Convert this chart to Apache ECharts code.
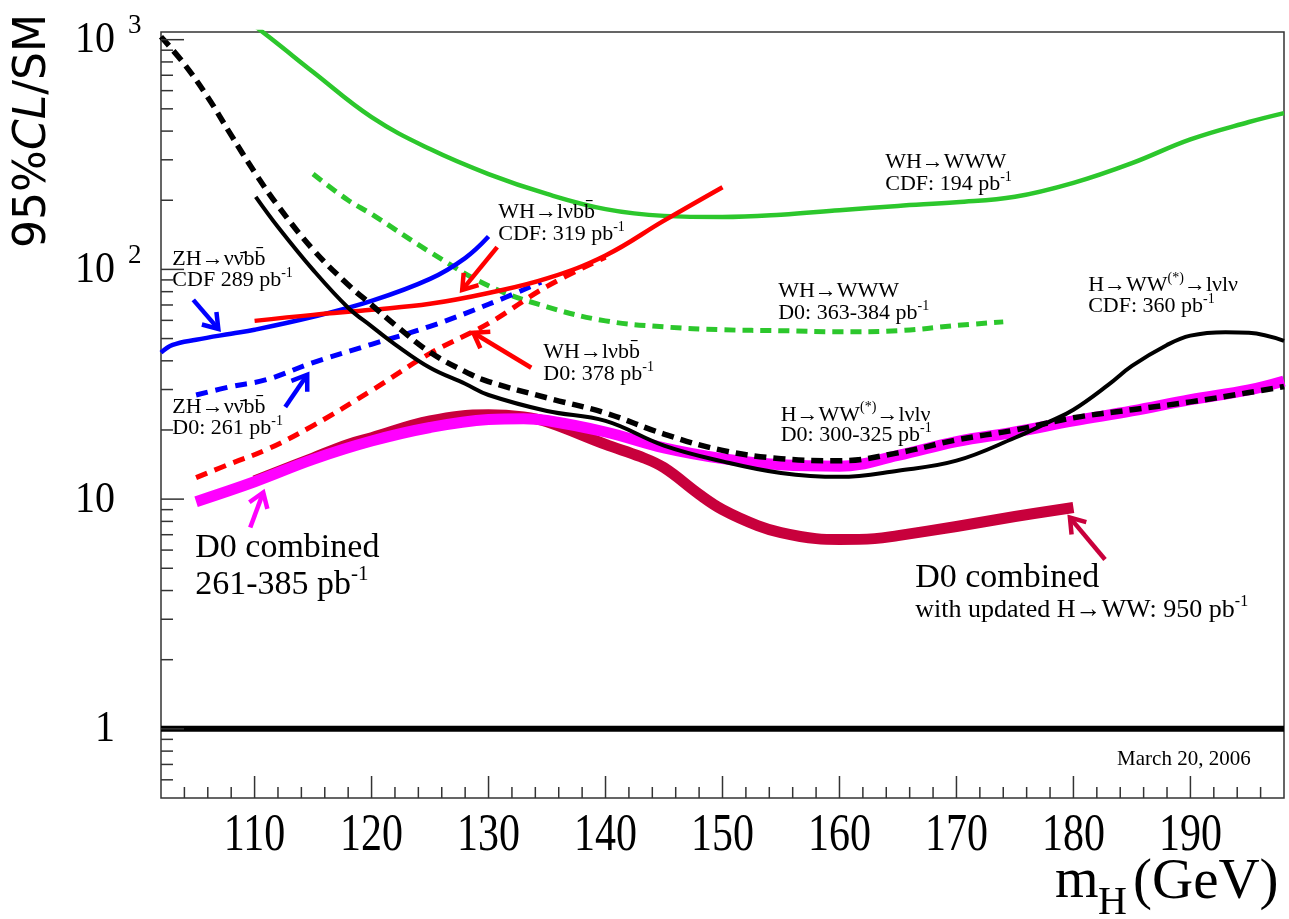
<!DOCTYPE html>
<html>
<head>
<meta charset="utf-8">
<title>Higgs search limits</title>
<script src="https://cdn.jsdelivr.net/npm/echarts@6.0.0/dist/echarts.min.js"></script>
<style>
  html, body { margin: 0; padding: 0; background: #ffffff; }
  #chart { width: 1289px; height: 919px; }
</style>
</head>
<body>
<div id="chart"></div>
<script>
// ---------- axis ranges ----------
const X_MIN = 102, X_MAX = 198;
const Y_MIN = 0.5, Y_MAX = 1080;

// ---------- 95% CL limit / SM versus Higgs mass (GeV) ----------
// WH -> WWW, CDF 194 pb-1
const cdfWWW_m = [110, 112, 115, 120, 125, 130, 135, 140, 145, 150, 155, 160, 165, 170, 175, 180, 185, 190, 195, 198];
const cdfWWW_r = [1150, 957, 723, 460, 334, 260, 213, 183, 171, 169, 173, 181, 189, 196, 207, 238, 290, 368, 438, 479];
// WH -> WWW, D0 363-384 pb-1
const d0WWW_m = [115, 118, 120, 125, 130, 135, 140, 145, 150, 155, 160, 165, 170, 174];
const d0WWW_r = [260, 200, 174, 119, 84.8, 68.7, 59.7, 56.2, 54.6, 54.1, 53.5, 54.1, 57.0, 59.1];
// WH -> l nu b b, CDF 319 pb-1
const cdfWHbb_m = [110, 115, 120, 125, 130, 135, 140, 145, 150];
const cdfWHbb_r = [59.7, 63.4, 66.7, 70.8, 78.9, 91.3, 115, 163, 228];
// WH -> l nu b b, D0 378 pb-1
const d0WHbb_m = [105, 108, 111, 115, 120, 125, 130, 135, 140];
const d0WHbb_r = [12.4, 14.3, 16.4, 20.9, 29.7, 43.1, 58.2, 84.4, 113];
// ZH -> nu nu b b, CDF 289 pb-1
const cdfZHbb_m = [102, 103, 105, 108, 110, 115, 120, 125, 128, 130];
const cdfZHbb_r = [43.4, 46.9, 49.4, 52.5, 54.6, 62.2, 72.9, 90.9, 112, 139];
// ZH -> nu nu b b, D0 261 pb-1
const d0ZHbb_m = [105, 108, 111, 115, 120, 125, 130, 134.5];
const d0ZHbb_r = [28.4, 30.9, 33.1, 39.3, 47.2, 56.5, 70.5, 88];
// H -> WW(*) -> l nu l nu, D0 300-325 pb-1
const d0HWW_m = [102, 104, 106, 108, 110, 112, 115, 118, 120, 122, 125, 128, 130, 135, 140, 145, 150, 155, 160, 165, 170, 175, 180, 185, 190, 195, 198];
const d0HWW_r = [1030, 782, 562, 384, 265, 189, 122, 85.7, 70.1, 57.4, 43.6, 35.9, 32.5, 27.6, 23.7, 19.2, 16.3, 15.0, 14.7, 15.9, 18.1, 20.0, 22.6, 24.5, 26.5, 29.1, 30.9];
// H -> WW(*) -> l nu l nu, CDF 360 pb-1
const cdfHWW_m = [110.1, 112, 115, 118, 120, 122, 125, 128, 130, 135, 140, 145, 150, 155, 160, 165, 170, 175, 178, 180, 183, 185, 188, 190, 193, 195, 198];
const cdfHWW_r = [207, 153, 99.5, 68.1, 56.5, 47.2, 37.3, 31.8, 28.4, 24.2, 21.9, 17.1, 14.6, 13.0, 12.5, 13.3, 14.7, 18.5, 21.8, 24.5, 31.5, 38.0, 46.9, 51.5, 53.3, 53.0, 48.9];
// D0 combined, 261-385 pb-1
const d0Comb_m = [105, 110, 115, 120, 125, 130, 133, 135, 140, 145, 150, 155, 160, 165, 170, 175, 180, 185, 190, 195, 198];
const d0Comb_r = [9.75, 11.9, 14.9, 17.9, 20.5, 22.2, 22.4, 22.0, 19.6, 16.7, 15.0, 14.1, 13.9, 15.5, 17.8, 19.6, 21.9, 24.2, 27.1, 29.9, 32.7];
// D0 combined with updated H -> WW, 950 pb-1
const d0Comb950_m = [110, 115, 118, 120, 125, 130, 133, 135, 140, 143, 145, 148, 150, 153, 155, 158, 160, 163, 165, 170, 175, 180];
const d0Comb950_r = [12.0, 15.1, 17.3, 18.5, 21.9, 23.3, 22.8, 21.7, 17.3, 15.3, 13.7, 10.5, 9.0, 7.67, 7.15, 6.73, 6.67, 6.73, 6.94, 7.6, 8.4, 9.2];
// Standard Model reference
const sm_m = [X_MIN, X_MAX];
const sm_r = [1, 1];

// ---------- ticks and tick labels ----------
const xMajorTicks = [110, 120, 130, 140, 150, 160, 170, 180, 190];
const xMinorTicks = [104, 106, 108, 112, 114, 116, 118, 122, 124, 126, 128, 132, 134, 136, 138, 142, 144, 146, 148,
  152, 154, 156, 158, 162, 164, 166, 168, 172, 174, 176, 178, 182, 184, 186, 188, 192, 194, 196];
const xTickLabels = ['110', '120', '130', '140', '150', '160', '170', '180', '190'];
const yMajorTicks = [1, 10, 100, 1000];
const yMinorTicks = [0.6, 0.7, 0.8, 0.9, 2, 3, 4, 5, 6, 7, 8, 9, 20, 30, 40, 50, 60, 70, 80, 90,
  200, 300, 400, 500, 600, 700, 800, 900];
const yLabelBase = ['1', '10', '10', '10'];
const yLabelExp = ['', '', '2', '3'];

// ---------- annotation arrows (tail -> head, in data units) ----------
const arrowTail = [[104.76, 73.7], [112.62, 25.2], [130.74, 125], [133.65, 37.3], [109.63, 7.52], [182.7, 5.46]];
const arrowHead = [[106.9, 55.1], [114.5, 34.8], [127.75, 81.5], [128.7, 53.0], [110.74, 10.7], [179.7, 8.31]];
const arrowColor = ['#0000ff', '#0000ff', '#ff0000', '#ff0000', '#ff00ff', '#c8003c'];

// ---------- annotation texts (anchor = left edge, line middle) ----------
const noteText = [
  'ZH→νν\u0304bb\u0304', 'CDF 289 pb{s|-1}',
  'WH→lνbb\u0304', 'CDF: 319 pb{s|-1}',
  'WH→WWW', 'CDF: 194 pb{s|-1}',
  'WH→WWW', 'D0: 363-384 pb{s|-1}',
  'H→WW{s|(*)}→lνlν', 'CDF: 360 pb{s|-1}',
  'WH→lνbb\u0304', 'D0: 378 pb{s|-1}',
  'ZH→νν\u0304bb\u0304', 'D0: 261 pb{s|-1}',
  'H→WW{s|(*)}→lνlν', 'D0: 300-325 pb{s|-1}',
  'D0 combined', '261-385 pb{s|-1}',
  'D0 combined', 'with updated H→WW: 950 pb{s|-1}',
  'March 20, 2006'
];
const noteAnchor = [
  [102.97, 111.1], [102.97, 90.0],
  [130.83, 177.8], [130.83, 142.7],
  [163.91, 293.4], [163.91, 235.3],
  [154.76, 80.6], [154.76, 64.7],
  [181.26, 85.6], [181.26, 69.4],
  [134.68, 43.8], [134.68, 34.8],
  [102.97, 25.2], [102.97, 20.3],
  [154.97, 23.3], [154.97, 18.9],
  [104.93, 6.15], [104.93, 4.21],
  [166.47, 4.51], [166.47, 3.27],
  [183.73, 0.737]
];
const noteSize = [22, 22, 22, 22, 22, 22, 22, 22, 22, 22, 22, 22, 22, 22, 22, 22, 34, 34, 34, 26, 21];

const SERIF = '"Liberation Serif", "Times New Roman", serif';

function pairs(xs, ys) { return xs.map((x, i) => [x, ys[i]]); }

function curve(name, xs, ys, color, width, dash, z) {
  return {
    name: name,
    type: 'line',
    data: pairs(xs, ys),
    showSymbol: false,
    symbol: 'none',
    smooth: 0.4,
    clip: true,
    silent: true,
    z: z,
    lineStyle: { color: color, width: width, type: dash || 'solid', cap: 'butt', join: 'round' }
  };
}

function tickSeries(name, points, dx, dy) {
  return {
    name: name,
    type: 'custom',
    coordinateSystem: 'cartesian2d',
    silent: true,
    clip: false,
    z: 8,
    data: points,
    renderItem: function (params, api) {
      const p = api.coord([api.value(0), api.value(1)]);
      return {
        type: 'line',
        shape: { x1: p[0], y1: p[1], x2: p[0] + dx, y2: p[1] + dy },
        style: { stroke: '#333333', lineWidth: 1.5 }
      };
    }
  };
}

const series = [
  curve('D0 combined 950', d0Comb950_m, d0Comb950_r, '#c8003c', 11, null, 2),
  curve('D0 combined', d0Comb_m, d0Comb_r, '#ff00ff', 11, null, 3),
  curve('WH→WWW CDF', cdfWWW_m, cdfWWW_r, '#2cc72c', 4.5, null, 4),
  curve('WH→WWW D0', d0WWW_m, d0WWW_r, '#2cc72c', 5, [11, 7], 4),
  curve('ZH→vvbb CDF', cdfZHbb_m, cdfZHbb_r, '#0000ff', 4.5, null, 4),
  curve('ZH→vvbb D0', d0ZHbb_m, d0ZHbb_r, '#0000ff', 5, [12, 8], 4),
  curve('WH→lvbb D0', d0WHbb_m, d0WHbb_r, '#ff0000', 5, [12, 8], 4),
  curve('WH→lvbb CDF', cdfWHbb_m, cdfWHbb_r, '#ff0000', 4.5, null, 5),
  curve('H→WW CDF', cdfHWW_m, cdfHWW_r, '#000000', 4, null, 6),
  curve('H→WW D0', d0HWW_m, d0HWW_r, '#000000', 5.5, [12, 7], 6),
  Object.assign(curve('SM', sm_m, sm_r, '#000000', 6, null, 6), { smooth: false }),

  tickSeries('x major ticks', xMajorTicks.map(v => [v, Y_MIN]), 0, -22),
  tickSeries('x minor ticks', xMinorTicks.map(v => [v, Y_MIN]), 0, -11),
  tickSeries('y major ticks', yMajorTicks.map(v => [X_MIN, v]), 23, 0),
  tickSeries('y minor ticks', yMinorTicks.map(v => [X_MIN, v]), 12, 0),

  {
    name: 'x labels',
    type: 'custom',
    coordinateSystem: 'cartesian2d',
    silent: true,
    clip: false,
    z: 9,
    data: xMajorTicks.map(v => [v, Y_MIN]),
    renderItem: function (params, api) {
      const p = api.coord([api.value(0), api.value(1)]);
      return {
        type: 'text',
        x: p[0],
        y: p[1] + 38,
        scaleY: 1.25,
        style: {
          text: xTickLabels[params.dataIndex],
          x: 0, y: 0,
          align: 'center', verticalAlign: 'middle',
          fontSize: 42, fontFamily: SERIF, fill: '#000000'
        }
      };
    }
  },
  {
    name: 'y labels',
    type: 'custom',
    coordinateSystem: 'cartesian2d',
    silent: true,
    clip: false,
    z: 9,
    data: yMajorTicks.map(v => [X_MIN, v]),
    renderItem: function (params, api) {
      const i = params.dataIndex;
      const p = api.coord([api.value(0), api.value(1)]);
      const kids = [{
        type: 'text',
        x: p[0] - 46,
        y: p[1] + 1,
        scaleY: 1.1,
        style: {
          text: yLabelBase[i], x: 0, y: 0,
          align: 'right', verticalAlign: 'middle',
          fontSize: 40, fontFamily: SERIF, fill: '#000000'
        }
      }];
      if (yLabelExp[i]) {
        kids.push({
          type: 'text',
          x: p[0] - 33,
          y: p[1] - 27,
          style: {
            text: yLabelExp[i], x: 0, y: 0,
            align: 'left', verticalAlign: 'top',
            fontSize: 27, fontFamily: SERIF, fill: '#000000'
          }
        });
      }
      return { type: 'group', children: kids };
    }
  },
  {
    name: 'arrows',
    type: 'custom',
    coordinateSystem: 'cartesian2d',
    silent: true,
    clip: false,
    z: 10,
    data: arrowTail.map((t, i) => [t[0], t[1], arrowHead[i][0], arrowHead[i][1]]),
    renderItem: function (params, api) {
      const a = api.coord([api.value(0), api.value(1)]);
      const b = api.coord([api.value(2), api.value(3)]);
      const ang = Math.atan2(a[1] - b[1], a[0] - b[0]);
      const L = 17, spread = 0.6;
      const h1 = [b[0] + L * Math.cos(ang + spread), b[1] + L * Math.sin(ang + spread)];
      const h2 = [b[0] + L * Math.cos(ang - spread), b[1] + L * Math.sin(ang - spread)];
      const st = { stroke: arrowColor[params.dataIndex], lineWidth: 4.5, lineCap: 'butt', lineJoin: 'miter', fill: null };
      return {
        type: 'group',
        children: [
          { type: 'polyline', shape: { points: [a, b] }, style: st },
          { type: 'polyline', shape: { points: [h1, b, h2] }, style: st }
        ]
      };
    }
  },
  {
    name: 'notes',
    type: 'custom',
    coordinateSystem: 'cartesian2d',
    silent: true,
    clip: false,
    z: 11,
    data: noteAnchor,
    renderItem: function (params, api) {
      const i = params.dataIndex;
      const p = api.coord([api.value(0), api.value(1)]);
      const fs = noteSize[i];
      return {
        type: 'text',
        x: p[0],
        y: p[1],
        style: {
          text: noteText[i], x: 0, y: 0,
          align: 'left', verticalAlign: 'middle',
          fontSize: fs, fontFamily: SERIF, fill: '#000000',
          lineHeight: Math.round(fs * 1.25),
          rich: {
            s: { fontSize: Math.round(fs * 0.62), fontFamily: SERIF, fill: '#000000', verticalAlign: 'top' }
          }
        }
      };
    }
  }
];

const chart = echarts.init(document.getElementById('chart'), null, { renderer: 'canvas' });
chart.setOption({
  animation: false,
  backgroundColor: '#ffffff',
  grid: {
    left: 161, right: 5, top: 32, bottom: 121,
    show: true, borderColor: '#333333', borderWidth: 1.5, backgroundColor: 'transparent'
  },
  xAxis: {
    type: 'value', min: X_MIN, max: X_MAX,
    axisLine: { show: false }, axisTick: { show: false }, axisLabel: { show: false }, splitLine: { show: false }
  },
  yAxis: {
    type: 'log', logBase: 10, min: Y_MIN, max: Y_MAX,
    axisLine: { show: false }, axisTick: { show: false }, axisLabel: { show: false }, splitLine: { show: false },
    minorTick: { show: false }, minorSplitLine: { show: false }
  },
  graphic: [
    {
      type: 'text',
      x: 34, y: 131,
      rotation: Math.PI / 2,
      style: {
        text: '{n|95%}{i|CL}{n|/SM}',
        align: 'center', verticalAlign: 'middle',
        textAlign: 'center', textVerticalAlign: 'middle',
        fill: '#000000',
        rich: {
          n: { fontSize: 44, fontFamily: '"DejaVu Sans", sans-serif', fill: '#000000' },
          i: { fontSize: 44, fontFamily: '"DejaVu Sans", sans-serif', fontStyle: 'italic', fill: '#000000' }
        }
      }
    },
    {
      type: 'text', x: 1055, y: 882,
      style: { text: 'm', fontSize: 56, fontFamily: SERIF, fill: '#000000',
        align: 'left', verticalAlign: 'middle', textAlign: 'left', textVerticalAlign: 'middle' }
    },
    {
      type: 'text', x: 1098, y: 903,
      style: { text: 'H', fontSize: 40, fontFamily: SERIF, fill: '#000000',
        align: 'left', verticalAlign: 'middle', textAlign: 'left', textVerticalAlign: 'middle' }
    },
    {
      type: 'text', x: 1133, y: 883,
      style: { text: '(GeV)', fontSize: 57, fontFamily: SERIF, fill: '#000000',
        align: 'left', verticalAlign: 'middle', textAlign: 'left', textVerticalAlign: 'middle' }
    }
  ],
  series: series
});
</script>
</body>
</html>
